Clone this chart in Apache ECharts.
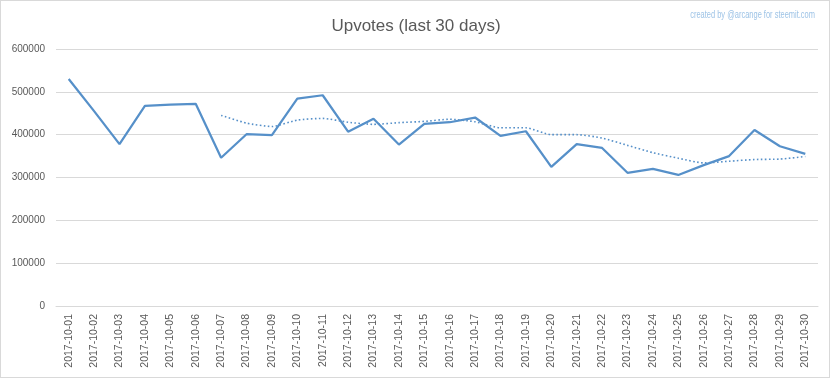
<!DOCTYPE html>
<html>
<head>
<meta charset="utf-8">
<script src="https://cdn.jsdelivr.net/npm/echarts@6/dist/echarts.min.js"></script>
<style>
html,body{margin:0;padding:0;background:#fff;}
#chart{position:absolute;left:0;top:0;width:832px;height:379px;}
#frame{position:absolute;left:0;top:0;width:830px;height:378px;border:1px solid #d9d9d9;box-sizing:border-box;pointer-events:none;}
</style>
</head>
<body>
<div id="chart"></div>
<div id="frame"></div>
<script>
const categories = [
  "2017-10-01","2017-10-02","2017-10-03","2017-10-04","2017-10-05","2017-10-06","2017-10-07","2017-10-08","2017-10-09","2017-10-10",
  "2017-10-11","2017-10-12","2017-10-13","2017-10-14","2017-10-15","2017-10-16","2017-10-17","2017-10-18","2017-10-19","2017-10-20",
  "2017-10-21","2017-10-22","2017-10-23","2017-10-24","2017-10-25","2017-10-26","2017-10-27","2017-10-28","2017-10-29","2017-10-30"
];
const upvotes = [
  530000, 455000, 378000, 467000, 470000, 472000, 346000, 401000, 399000, 484000,
  492000, 407000, 437000, 377000, 425000, 429000, 440000, 397000, 408000, 325000,
  378000, 369000, 311000, 320000, 306000, 329000, 350000, 411000, 373000, 355000
];
const trend = [
  null, null, null, null, null, null, 445000, 427000, 419000, 434000,
  438000, 429000, 424000, 428000, 431000, 436000, 430000, 416000, 416000, 400000,
  400000, 392000, 375000, 358000, 345000, 334000, 338000, 342000, 343000, 349000
];
const yTicks = { min: 0, max: 600000, interval: 100000 };
const titleText = "Upvotes (last 30 days)";
const creditText = "created by @arcange for steemit.com";

const chart = echarts.init(document.getElementById('chart'), null, {renderer: 'canvas'});
chart.setOption({
  animation: false,
  backgroundColor: '#ffffff',
  title: {
    text: titleText,
    left: 'center',
    top: 13,
    textStyle: { fontFamily: 'Liberation Sans, Arial, sans-serif', fontSize: 17, fontWeight: 'normal', color: '#595959' }
  },
  graphic: [{
    type: 'text',
    x: 815,
    y: 15,
    scaleX: 0.68,
    originX: 0,
    style: {
      text: creditText, fill: '#9DC3E6',
      font: '11px "Liberation Sans", Arial, sans-serif',
      textAlign: 'right', textVerticalAlign: 'middle'
    }
  }],
  grid: { left: 56, right: 14, top: 49, bottom: 73, containLabel: false },
  xAxis: {
    type: 'category',
    data: categories,
    boundaryGap: true,
    axisLine: { show: true, lineStyle: { color: '#d9d9d9', width: 1 } },
    axisTick: { show: false },
    axisLabel: {
      interval: 0, rotate: 90, margin: 8,
      fontFamily: 'Liberation Sans, Arial, sans-serif', fontSize: 10.5, color: '#595959'
    }
  },
  yAxis: {
    type: 'value',
    min: yTicks.min, max: yTicks.max, interval: yTicks.interval,
    axisLine: { show: false },
    axisTick: { show: false },
    splitLine: { lineStyle: { color: '#d9d9d9', width: 1 } },
    axisLabel: {
      margin: 11, fontFamily: 'Liberation Sans, Arial, sans-serif', fontSize: 10, color: '#595959',
      formatter: function (v) { return String(v); }
    }
  },
  series: [
    {
      name: 'Upvotes', type: 'line', data: upvotes,
      symbol: 'none',
      lineStyle: { color: '#5690C9', width: 2.25 },
      z: 3
    },
    {
      name: 'Trend', type: 'line', data: trend,
      symbol: 'none', smooth: 0.2,
      lineStyle: { color: '#5690C9', width: 1.6, type: [1.6, 2.4] },
      z: 2
    }
  ]
});
</script>
</body>
</html>
